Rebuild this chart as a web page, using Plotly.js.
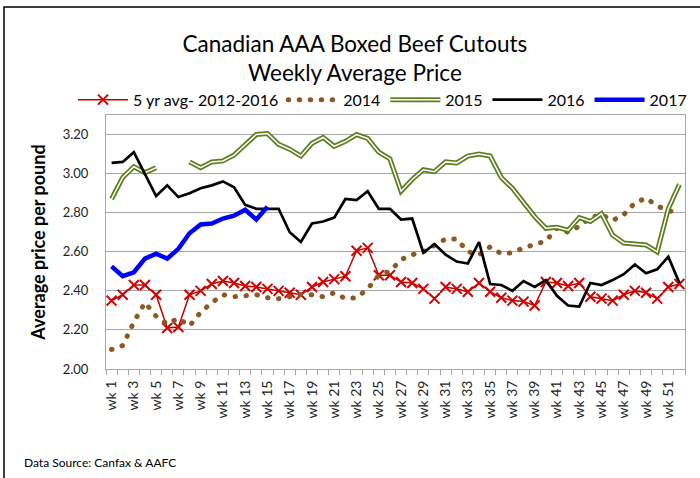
<!DOCTYPE html>
<html>
<head>
<meta charset="utf-8">
<script src="https://cdn.plot.ly/plotly-3.0.1.min.js"></script>
<style>
html,body{margin:0;padding:0;background:#fff;}
#chart{width:700px;height:478px;}
</style>
</head>
<body>
<div id="chart"></div>
<script>
const weekLabels = ['wk 1','wk 2','wk 3','wk 4','wk 5','wk 6','wk 7','wk 8','wk 9','wk 10',
  'wk 11','wk 12','wk 13','wk 14','wk 15','wk 16','wk 17','wk 18','wk 19','wk 20',
  'wk 21','wk 22','wk 23','wk 24','wk 25','wk 26','wk 27','wk 28','wk 29','wk 30',
  'wk 31','wk 32','wk 33','wk 34','wk 35','wk 36','wk 37','wk 38','wk 39','wk 40',
  'wk 41','wk 42','wk 43','wk 44','wk 45','wk 46','wk 47','wk 48','wk 49','wk 50',
  'wk 51','wk 52'];

const avg5yr = [2.35, 2.38, 2.43, 2.43, 2.38, 2.21, 2.215, 2.38, 2.40, 2.435,
  2.45, 2.44, 2.425, 2.42, 2.41, 2.40, 2.39, 2.38, 2.42, 2.445,
  2.46, 2.475, 2.605, 2.62, 2.48, 2.48, 2.445, 2.44, 2.41, 2.36,
  2.42, 2.41, 2.395, 2.44, 2.395, 2.365, 2.35, 2.345, 2.325, 2.445,
  2.44, 2.425, 2.44, 2.37, 2.36, 2.35, 2.38, 2.40, 2.39, 2.36,
  2.42, 2.435];

const y2014 = [2.10, 2.12, 2.24, 2.34, 2.27, 2.23, 2.26, 2.22, 2.29, 2.34,
  2.38, 2.37, 2.375, 2.38, 2.365, 2.36, 2.37, 2.38, 2.38, 2.37,
  2.39, 2.36, 2.365, 2.41, 2.48, 2.50, 2.56, 2.585, 2.60, 2.63,
  2.665, 2.665, 2.60, 2.585, 2.625, 2.59, 2.595, 2.62, 2.635, 2.655,
  2.72, 2.70, 2.73, 2.775, 2.79, 2.76, 2.79, 2.85, 2.875, 2.835,
  2.81, 2.80];

const y2015 = [2.87, 2.98, 3.035, 3.005, 3.03, null, null, 3.06, 3.03, 3.06,
  3.065, 3.095, 3.145, 3.20, 3.205, 3.15, 3.125, 3.09, 3.155, 3.185,
  3.14, 3.165, 3.20, 3.18, 3.11, 3.075, 2.91, 2.97, 3.02, 3.01,
  3.06, 3.055, 3.09, 3.10, 3.09, 2.98, 2.925, 2.85, 2.78, 2.72,
  2.725, 2.71, 2.775, 2.755, 2.795, 2.685, 2.645, 2.64, 2.635, 2.60,
  2.82, 2.945];

const y2016 = [3.055, 3.06, 3.11, 3.00, 2.885, 2.94, 2.88, 2.90, 2.925, 2.94,
  2.96, 2.93, 2.84, 2.82, 2.82, 2.82, 2.70, 2.65, 2.745, 2.755,
  2.775, 2.87, 2.865, 2.91, 2.82, 2.82, 2.765, 2.77, 2.595, 2.64,
  2.585, 2.55, 2.54, 2.65, 2.435, 2.43, 2.40, 2.45, 2.42, 2.455,
  2.375, 2.325, 2.32, 2.44, 2.43, 2.455, 2.485, 2.535, 2.49, 2.51,
  2.575, 2.44];

const y2017 = [2.525, 2.475, 2.495, 2.565, 2.59, 2.565, 2.615, 2.695, 2.74, 2.745,
  2.77, 2.785, 2.815, 2.765, 2.83];

const yTicks = [2.0, 2.2, 2.4, 2.6, 2.8, 3.0, 3.2];

const xNum = weekLabels.map((_, i) => i + 1);
const labelIdx = xNum.filter(v => v % 2 === 1);
const labelTxt = labelIdx.map(v => weekLabels[v - 1]);

const FONT = 'Lato, "Open Sans", sans-serif';
const GREEN = '#5E7D1E';

const traces = [
  {name: '5 yr avg- 2012-2016', x: xNum, y: avg5yr, mode: 'lines+markers',
   line: {color: '#C00000', width: 1.5},
   marker: {symbol: 'x-thin', size: 10, color: '#D40000', line: {color: '#D40000', width: 2}}},
  {name: '2014', x: xNum, y: y2014, mode: 'lines',
   line: {color: '#8B5A24', width: 5, dash: '0.5px,10.5px'}},
  {name: '2015', x: xNum, y: y2015, mode: 'lines', connectgaps: false,
   line: {color: GREEN, width: 5}},
  {name: '2015w', x: xNum, y: y2015, mode: 'lines', showlegend: false, connectgaps: false,
   line: {color: '#ffffff', width: 1.5}},
  {name: '2016', x: xNum, y: y2016, mode: 'lines',
   line: {color: '#000000', width: 2.7}},
  {name: '2017', x: xNum.slice(0, y2017.length), y: y2017, mode: 'lines',
   line: {color: '#0000FF', width: 4.5}}
];

const layout = {
  width: 700, height: 478,
  margin: {l: 106, r: 15, t: 115, b: 109},
  paper_bgcolor: '#fff', plot_bgcolor: '#fff',
  font: {family: FONT, color: '#000'},
  showlegend: true,
  title: {text: 'Canadian AAA Boxed Beef Cutouts<br>Weekly Average Price',
    font: {family: FONT, size: 22.5, color: '#000'},
    x: 0.507, xref: 'container', xanchor: 'center',
    y: 1 - 52 / 478, yref: 'container', yanchor: 'top'},
  legend: {orientation: 'h', x: -0.057, xanchor: 'left', y: 1.06, yanchor: 'middle',
    font: {family: FONT, size: 16, color: '#000'}, itemwidth: 50, bgcolor: 'rgba(0,0,0,0)',
    tracegroupgap: 0},
  xaxis: {range: [0.5, 52.5], tickmode: 'array', tickvals: labelIdx, ticktext: labelTxt,
    tickangle: -90, ticks: '', ticklen: 0, showgrid: false, zeroline: false,
    showline: true, linecolor: '#A6A6A6', linewidth: 1, mirror: true,
    ticklabelstandoff: 5,
    tickfont: {family: FONT, size: 14, color: '#222'},
    minor: {tickmode: 'linear', tick0: 0.5, dtick: 1, ticks: 'outside', ticklen: 5, tickcolor: '#A6A6A6', showgrid: false}},
  yaxis: {range: [2.0, 3.3], tickmode: 'array', tickvals: yTicks, tickformat: '.2f',
    showgrid: true, gridcolor: '#A6A6A6', gridwidth: 1, zeroline: false,
    showline: true, linecolor: '#A6A6A6', linewidth: 1, mirror: true,
    ticks: '', ticklabelstandoff: 14,
    tickfont: {family: FONT, size: 13, color: '#222'},
    title: {text: 'Average price per pound', font: {family: FONT, size: 18, color: '#000', weight: 'bold'}, standoff: 12}},
  shapes: [{type: 'rect', xref: 'paper', yref: 'paper',
    x0: (4 - 106) / 579, x1: (702 - 106) / 579, y0: (369 - 481) / 254, y1: (369 - 7) / 254,
    line: {color: '#000', width: 1.5}, fillcolor: 'rgba(0,0,0,0)'}],
  annotations: [{text: 'Data Source: Canfax & AAFC', xref: 'paper', yref: 'paper',
    x: (22 - 106) / 579, xanchor: 'left', y: (369 - 462) / 254, yanchor: 'middle',
    showarrow: false, font: {family: FONT, size: 12, color: '#000'}}]
};

Plotly.newPlot('chart', traces, layout, {displayModeBar: false, staticPlot: true}).then(gd => {
  gd.querySelectorAll('path.js-line').forEach(p => {
    const d = p.style.strokeDasharray;
    if (d && d !== 'none') p.style.strokeLinecap = 'round';
  });
  gd.querySelectorAll('.legend .traces').forEach(t => {
    if (t.textContent.trim() === '2015') {
      const p = t.querySelector('.legendlines path');
      if (p) {
        const c = p.cloneNode(true);
        c.style.stroke = '#ffffff';
        c.style.strokeWidth = '1.5px';
        p.parentNode.appendChild(c);
      }
    }
  });
});
</script>
</body>
</html>
